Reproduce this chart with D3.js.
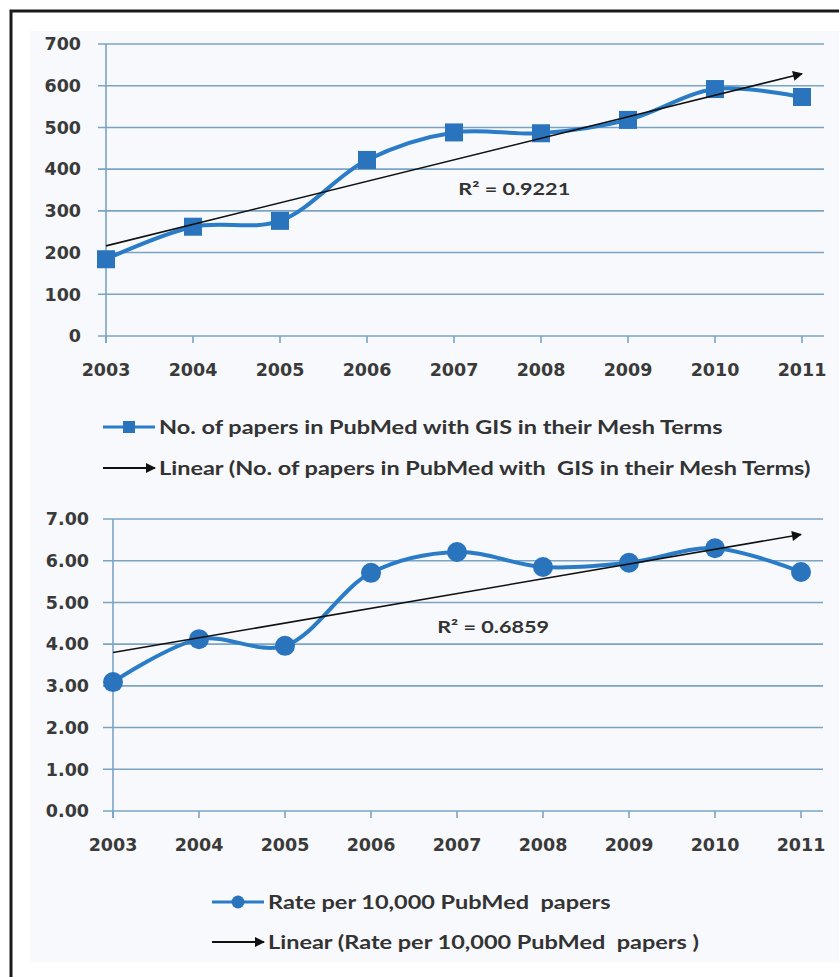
<!DOCTYPE html>
<html>
<head>
<meta charset="utf-8">
<script src="https://cdn.jsdelivr.net/npm/d3@7/dist/d3.min.js"></script>
<style>
  body { margin: 0; background: #fff; }
  .tick-label { font-family: "DejaVu Sans", Verdana, sans-serif; font-weight: bold; font-size: 17.5px; fill: #3a3a3a; }
  .legend-label, .r2-label { font-family: Lato, "Open Sans", sans-serif; font-weight: bold; fill: #333; white-space: pre; }
</style>
</head>
<body>
<div id="chart"></div>
<script>
'use strict';

// data
const years = [2003, 2004, 2005, 2006, 2007, 2008, 2009, 2010, 2011];
const papers = [184, 262, 276, 422, 488, 486, 518, 592, 573];
const rates = [3.09, 4.12, 3.96, 5.71, 6.21, 5.85, 5.95, 6.30, 5.73];

const papersTicks = [0, 100, 200, 300, 400, 500, 600, 700];
const rateTicks = [0, 1, 2, 3, 4, 5, 6, 7];

const papersR2 = "R\u00b2 = 0.9221";
const ratesR2 = "R\u00b2 = 0.6859";

const papersLegend = ["No. of papers in PubMed with GIS in their Mesh Terms",
                      "Linear (No. of papers in PubMed with  GIS in their Mesh Terms)"];
const ratesLegend = ["Rate per 10,000 PubMed  papers",
                     "Linear (Rate per 10,000 PubMed  papers )"];

const WIDTH = 839, HEIGHT = 977;
const BLUE = "#2b7cc6";
const MARK = "#2a74bd";
const GRID = "#7ba3c4";
const STRETCH = 1.27;   // the original text is wide, like a stretched Calibri

let svg = d3.select("#chart").append("svg")
    .attr("width", WIDTH)
    .attr("height", HEIGHT);

// arrow head for trend lines
svg.append("defs").append("marker")
    .attr("id", "arrow")
    .attr("viewBox", "0 0 10 10")
    .attr("refX", 9).attr("refY", 5)
    .attr("markerWidth", 13).attr("markerHeight", 10)
    .attr("markerUnits", "userSpaceOnUse")
    .attr("orient", "auto")
    .append("path")
    .attr("d", "M0,0 L10,5 L0,10 z")
    .attr("fill", "#111");

// frame + faint panel
svg.append("rect")
    .attr("x", 30).attr("y", 31)
    .attr("width", WIDTH - 30).attr("height", 931)
    .attr("fill", "#f7f9fc");
svg.append("rect")
    .attr("x", 11).attr("y", 11)
    .attr("width", WIDTH + 20).attr("height", HEIGHT + 20)
    .attr("fill", "none")
    .attr("stroke", "#1a1a1a")
    .attr("stroke-width", 3);

function linearFit(vals) {
    let mx = d3.mean(vals, (d, i) => i);
    let my = d3.mean(vals);
    let sxy = d3.sum(vals, (d, i) => (i - mx) * (d - my));
    let sxx = d3.sum(vals, (d, i) => (i - mx) * (i - mx));
    let slope = sxy / sxx;
    return i => my + slope * (i - mx);
}

function drawChart(cfg) {
    let x_scale = d3.scaleLinear().domain([0, years.length - 1]).range([cfg.left, cfg.right]);
    let y_scale = d3.scaleLinear().domain([cfg.ticks[0], cfg.ticks[cfg.ticks.length - 1]])
        .range([cfg.bottom, cfg.top]);

    let g = svg.append("g");

    // gridlines
    g.selectAll(".grid")
        .data(cfg.ticks)
        .enter().append("line")
        .attr("x1", cfg.left - cfg.tickOut)
        .attr("x2", cfg.gridEnd)
        .attr("y1", d => y_scale(d))
        .attr("y2", d => y_scale(d))
        .attr("stroke", GRID)
        .attr("stroke-width", 1.6);

    // y axis line
    g.append("line")
        .attr("x1", cfg.left).attr("x2", cfg.left)
        .attr("y1", y_scale.range()[1]).attr("y2", y_scale.range()[0] + 7)
        .attr("stroke", GRID)
        .attr("stroke-width", 1.6);

    // x ticks
    g.selectAll(".xtick")
        .data(years)
        .enter().append("line")
        .attr("x1", (d, i) => x_scale(i))
        .attr("x2", (d, i) => x_scale(i))
        .attr("y1", cfg.bottom)
        .attr("y2", cfg.bottom + 7)
        .attr("stroke", GRID)
        .attr("stroke-width", 1.6);

    // y labels
    g.selectAll(".ylab")
        .data(cfg.ticks)
        .enter().append("text")
        .attr("class", "tick-label")
        .attr("x", cfg.labelRight)
        .attr("y", d => y_scale(d))
        .attr("dy", "0.36em")
        .attr("text-anchor", "end")
        .text(cfg.format);

    // x labels
    g.selectAll(".xlab")
        .data(years)
        .enter().append("text")
        .attr("class", "tick-label")
        .attr("x", (d, i) => x_scale(i))
        .attr("y", cfg.bottom + 34)
        .attr("dy", "0.36em")
        .attr("text-anchor", "middle")
        .text(d => d);

    // series line (smoothed like the spreadsheet)
    let line = d3.line()
        .x((d, i) => x_scale(i))
        .y(d => y_scale(d))
        .curve(d3.curveCatmullRom.alpha(0.5));

    g.append("path")
        .datum(cfg.values)
        .attr("fill", "none")
        .attr("stroke", BLUE)
        .attr("stroke-width", 4)
        .attr("stroke-linejoin", "round")
        .attr("d", line);

    // markers
    if (cfg.marker === "square") {
        g.selectAll(".mk")
            .data(cfg.values)
            .enter().append("rect")
            .attr("x", (d, i) => x_scale(i) - 9)
            .attr("y", d => y_scale(d) - 9)
            .attr("width", 18).attr("height", 18)
            .attr("fill", MARK);
    } else {
        g.selectAll(".mk")
            .data(cfg.values)
            .enter().append("circle")
            .attr("cx", (d, i) => x_scale(i))
            .attr("cy", d => y_scale(d))
            .attr("r", 10)
            .attr("fill", MARK);
    }

    // linear trend with arrow
    let fit = linearFit(cfg.values);
    let last = years.length - 1;
    g.append("line")
        .attr("x1", x_scale(0)).attr("y1", y_scale(fit(0)))
        .attr("x2", x_scale(last)).attr("y2", y_scale(fit(last)))
        .attr("stroke", "#111")
        .attr("stroke-width", 1.6)
        .attr("marker-end", "url(#arrow)");

    g.append("text")
        .attr("class", "r2-label")
        .attr("transform", "translate(" + x_scale(cfg.r2At[0]) + "," + y_scale(cfg.r2At[1]) + ") scale(" + STRETCH + ",1)")
        .attr("dy", "0.36em")
        .style("font-size", "17px")
        .text(cfg.r2);

    // legend
    let lg = g.append("g");
    let lx0 = cfg.legendX, lx1 = cfg.legendX + 52;
    lg.append("line")
        .attr("x1", lx0).attr("x2", lx1)
        .attr("y1", cfg.legendY[0]).attr("y2", cfg.legendY[0])
        .attr("stroke", BLUE).attr("stroke-width", 3);
    if (cfg.marker === "square") {
        lg.append("rect")
            .attr("x", (lx0 + lx1) / 2 - 6).attr("y", cfg.legendY[0] - 6)
            .attr("width", 12).attr("height", 12)
            .attr("fill", MARK);
    } else {
        lg.append("circle")
            .attr("cx", (lx0 + lx1) / 2).attr("cy", cfg.legendY[0])
            .attr("r", 6.5)
            .attr("fill", MARK);
    }
    lg.append("line")
        .attr("x1", lx0).attr("x2", lx1)
        .attr("y1", cfg.legendY[1]).attr("y2", cfg.legendY[1])
        .attr("stroke", "#111").attr("stroke-width", 2)
        .attr("marker-end", "url(#arrow)");

    lg.selectAll(".lt")
        .data(cfg.legend)
        .enter().append("text")
        .attr("class", "legend-label")
        .attr("transform", (d, i) => "translate(" + (lx1 + 4) + "," + cfg.legendY[i] + ") scale(" + STRETCH + ",1)")
        .attr("dy", "0.36em")
        .style("font-size", "18.5px")
        .text(d => d);
}

drawChart({
    values: papers, ticks: papersTicks, format: d => d,
    left: 106, right: 802, top: 44, bottom: 336, gridEnd: 824, tickOut: 8,
    labelRight: 81, marker: "square",
    r2: papersR2, r2At: [4.05, 352],
    legend: papersLegend, legendX: 103, legendY: [427, 468]
});

drawChart({
    values: rates, ticks: rateTicks, format: d => d.toFixed(2),
    left: 113, right: 801, top: 519, bottom: 811, gridEnd: 823, tickOut: 10,
    labelRight: 89, marker: "circle",
    r2: ratesR2, r2At: [3.77, 4.42],
    legend: ratesLegend, legendX: 212, legendY: [902, 942]
});
</script>
</body>
</html>
